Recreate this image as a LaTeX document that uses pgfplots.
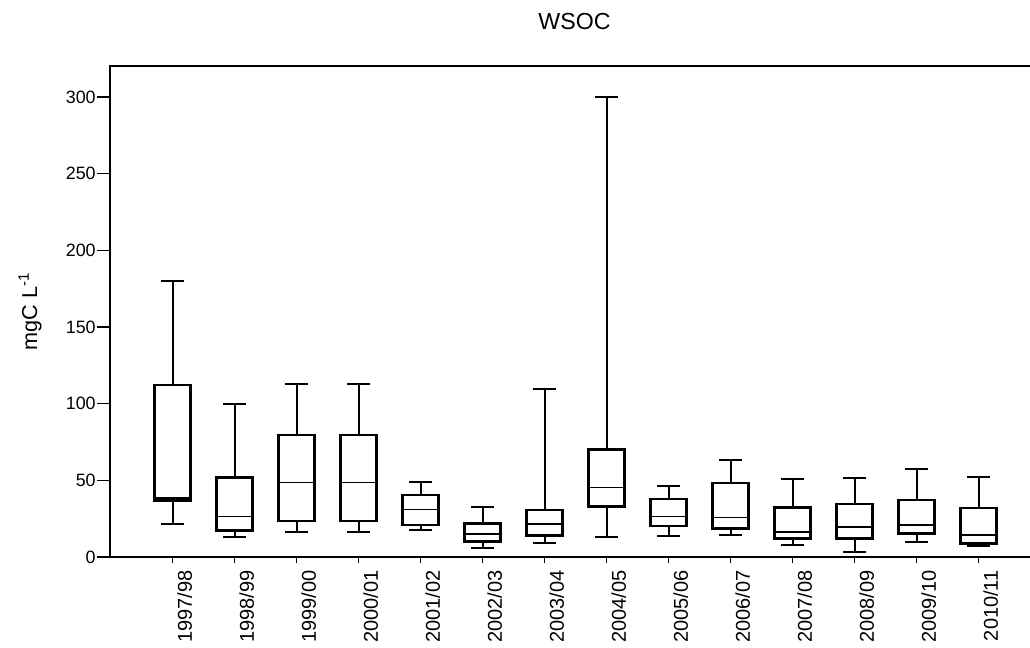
\documentclass[border=0pt]{standalone}
\usepackage{pgfplots}
\pgfplotsset{compat=1.18}
\usepgfplotslibrary{statistics}
\usepackage{fontspec}
\setmainfont{Liberation Sans}

\begin{document}
\begin{tikzpicture}
% 1 px of the reference = 0.75pt
\useasboundingbox (0pt,0pt) rectangle (772.5pt,486pt);
\begin{axis}[
    scale only axis,
    width=697.5pt, height=368.25pt,
    anchor=south west, at={(82.5pt,68.25pt)},
    xmin=-1.011, xmax=13.99,
    ymin=0, ymax=320.2,
    axis line style={line width=1pt},
    tick align=outside,
    tick pos=left,
    major tick length=9.75pt,
    x tick style={/pgfplots/major tick length=4.5pt},
    tick style={line width=0.8pt, black},
    xtick={0,1,2,3,4,5,6,7,8,9,10,11,12,13},
    xticklabels={1997/98,1998/99,1999/00,2000/01,2001/02,2002/03,2003/04,2004/05,2005/06,2006/07,2007/08,2008/09,2009/10,2010/11},
    ytick={0,50,100,150,200,250,300},
    /pgf/number format/assume math mode=true,
    xticklabel style={rotate=90, anchor=east, inner sep=0pt, yshift=-9pt, font=\fontsize{15}{18}\selectfont},
    yticklabel style={inner sep=0pt, xshift=-0.8pt, font=\fontsize{13.4}{16}\selectfont},
    ylabel={mgC L\textsuperscript{-1}},
    ylabel style={at={(rel axis cs:-0.086,0.5)}, anchor=center, font=\fontsize{16.2}{19}\selectfont},
    title={WSOC},
    title style={at={(rel axis cs:0.4995,1)}, anchor=base, yshift=21pt, font=\fontsize{17.4}{21}\selectfont},
    boxplot/draw direction=y,
    boxplot/box extend=0.58,
    boxplot/whisker extend=0.375,
    boxplot/every box/.style={line width=1.9pt},
    boxplot/every whisker/.style={line width=1.35pt},
    boxplot/every median/.style={line width=1pt},
]
\addplot[black, boxplot prepared={draw position=0, lower whisker=21.7, lower quartile=36.7, median=38.5, upper quartile=112.2, upper whisker=180}] coordinates {};
\addplot[black, boxplot prepared={draw position=1, lower whisker=13.3, lower quartile=17.2, median=26.5, upper quartile=52, upper whisker=99.8}] coordinates {};
\addplot[black, boxplot prepared={draw position=2, lower whisker=16.5, lower quartile=23.5, median=48.5, upper quartile=79.6, upper whisker=112.8}] coordinates {};
\addplot[black, boxplot prepared={draw position=3, lower whisker=16.5, lower quartile=23.5, median=48.5, upper quartile=79.6, upper whisker=112.8}] coordinates {};
\addplot[black, boxplot prepared={draw position=4, lower whisker=17.6, lower quartile=20.9, median=31.1, upper quartile=40.4, upper whisker=49.1}] coordinates {};
\addplot[black, boxplot prepared={draw position=5, lower whisker=5.7, lower quartile=10, median=15, upper quartile=22, upper whisker=32.4}] coordinates {};
\addplot[black, boxplot prepared={draw position=6, lower whisker=8.9, lower quartile=13.9, median=21.5, upper quartile=30.7, upper whisker=109.3}] coordinates {};
\addplot[black, boxplot prepared={draw position=7, lower whisker=13.3, lower quartile=32.8, median=45.2, upper quartile=70.2, upper whisker=300}] coordinates {};
\addplot[black, boxplot prepared={draw position=8, lower whisker=13.9, lower quartile=20.2, median=26.5, upper quartile=37.8, upper whisker=46.3}] coordinates {};
\addplot[black, boxplot prepared={draw position=9, lower whisker=14.1, lower quartile=18.7, median=25.7, upper quartile=48.3, upper whisker=63.3}] coordinates {};
\addplot[black, boxplot prepared={draw position=10, lower whisker=8, lower quartile=12, median=16.3, upper quartile=32.2, upper whisker=51.1}] coordinates {};
\addplot[black, boxplot prepared={draw position=11, lower whisker=3.5, lower quartile=12, median=19.6, upper quartile=34.6, upper whisker=51.3}] coordinates {};
\addplot[black, boxplot prepared={draw position=12, lower whisker=9.6, lower quartile=15.2, median=20.9, upper quartile=37.2, upper whisker=57.2}] coordinates {};
\addplot[black, boxplot prepared={draw position=13, lower whisker=7.2, lower quartile=8.7, median=14.3, upper quartile=32, upper whisker=52}] coordinates {};
\end{axis}
\end{tikzpicture}
\end{document}
